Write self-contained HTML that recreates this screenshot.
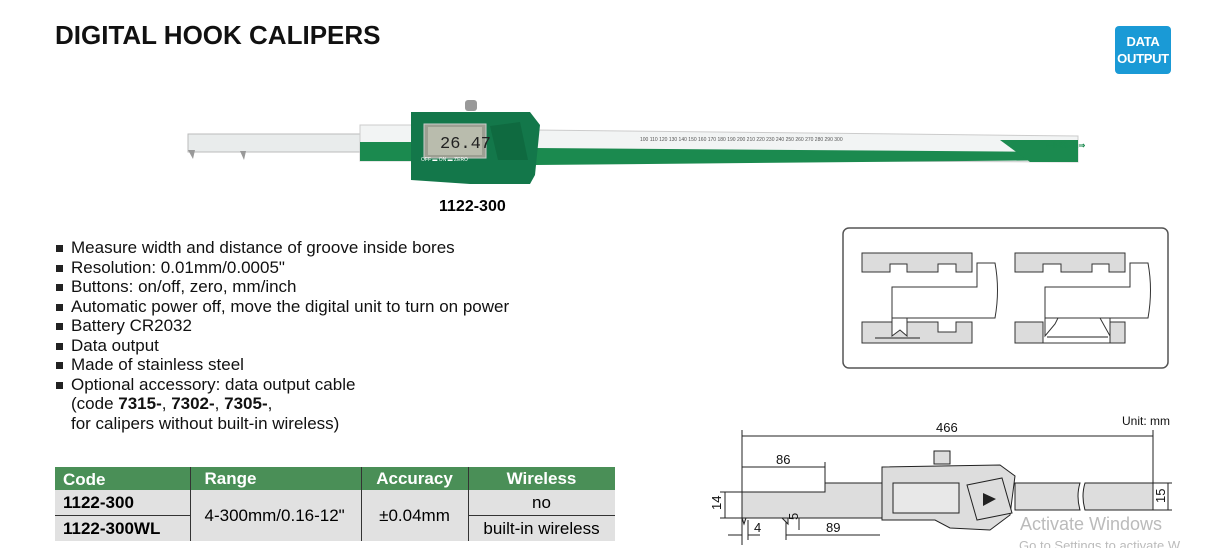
<!DOCTYPE html>
<html><head><meta charset="utf-8"><style>
body{margin:0;width:1206px;height:548px;overflow:hidden;background:#fff;font-family:"Liberation Sans",Arial,sans-serif;position:relative}
.a{position:absolute}
ul{position:absolute;left:56px;top:238px;margin:0;padding:0;list-style:none;font-size:17px;line-height:19.5px;color:#111}
ul li{padding-left:15px;position:relative}
ul li.b:before{content:"";position:absolute;left:0;top:7px;width:7px;height:7px;background:#222}
table{position:absolute;left:55px;top:467px;border-collapse:collapse;font-size:17px}
td{padding:0;height:25px;border-left:1.5px solid #333}
tr.h td{background:#4a8f57;color:#fff;font-weight:bold;height:23px;font-size:17px}
tr.r td{background:#e1e1e1}
</style></head><body>
<div class="a" style="left:55px;top:20px;font-size:26px;font-weight:bold;color:#111">DIGITAL HOOK CALIPERS</div>
<div class="a" style="left:1115px;top:26px;width:56px;height:48px;background:#1a9ad6;border-radius:4px;color:#fff;font-weight:bold;font-size:13px;letter-spacing:-0.3px;text-align:center;line-height:17px;padding-top:7px;box-sizing:border-box">DATA<br>OUTPUT</div>

<svg class="a" style="left:0;top:0" width="1206" height="548">
<path d="M188 134 L360 134 L360 152 L188 152Z" fill="#e9ecec" stroke="#bbb"/>
<path d="M188 150 L195 150 L193 159 Z M240 151 L246 151 L244 160 Z" fill="#999"/>
<rect x="360" y="125" width="52" height="36" fill="#f2f4f4" stroke="#ccc"/>
<rect x="360" y="142" width="52" height="19" fill="#1b8a4f"/>
<path d="M535 130 L1078 136 L1078 162 L535 160Z" fill="#f2f4f4" stroke="#ccc"/>
<path d="M535 148 L1065 152 L1078 160 L535 165Z" fill="#1b8a4f"/>
<path d="M1000 140 L1078 140 L1078 162 L1030 162Z" fill="#1b8a4f"/>
<text x="640" y="141" font-size="5" fill="#555">100 110 120 130 140 150 160 170 180 190 200 210 220 230 240 250 260 270 280 290 300</text>
<text x="1046" y="148" font-size="8" font-weight="bold" fill="#1b8a4f">⇐INSIZE⇒</text>
<path d="M411 112 L530 112 L540 125 L535 175 L530 184 L470 184 L411 180Z" fill="#13774a"/>
<rect x="465" y="100" width="12" height="11" rx="3" fill="#999"/>
<rect x="424" y="124" width="62" height="34" fill="#9c9f92" stroke="#ccc"/>
<rect x="428" y="127" width="54" height="28" fill="#b9bcad"/>
<text x="440" y="148" font-size="17" fill="#222" font-family="Liberation Mono">26.47</text>
<path d="M490 126 L520 122 L528 160 L498 160Z" fill="#0f6a40"/>
<text x="421" y="161" font-size="5" fill="#fff">OFF ▬ ON   ▬ ZERO</text>
<rect x="843" y="228" width="325" height="140" rx="6" fill="#fff" stroke="#555" stroke-width="1.5"/>
<g fill="#dcdcdc" stroke="#333" stroke-width="1">
<path d="M862 253 L972 253 L972 272 L956 272 L956 264 L938 264 L938 272 L907 272 L907 264 L890 264 L890 272 L862 272Z"/>
<path d="M862 322 L938 322 L938 332 L956 332 L956 322 L972 322 L972 343 L862 343Z"/>
<path d="M1015 253 L1125 253 L1125 272 L1109 272 L1109 264 L1092 264 L1092 272 L1061 272 L1061 264 L1043 264 L1043 272 L1015 272Z"/>
<path d="M1015 322 L1043 322 L1043 343 L1110 343 L1110 322 L1125 322 L1125 343 L1015 343Z"/>
</g>
<g fill="#fff" stroke="#333" stroke-width="1">
<path d="M977 263 L995 263 Q1000 290 995 318 L892 318 L892 287 L977 287Z"/>
<path d="M1130 263 L1148 263 Q1153 290 1148 318 L1045 318 L1045 287 L1130 287Z"/>
<path d="M892 318 L892 336 L900 330 L907 336 L907 318Z M1045 318 L1045 336 L1055 324 L1058 318Z M1100 318 L1110 336 L1110 318Z"/>
</g>
<g stroke="#222" stroke-width="1"><line x1="875" y1="338" x2="920" y2="338"/><line x1="1047" y1="337" x2="1108" y2="337"/></g>
<g stroke="#222" stroke-width="1" fill="none">
<line x1="742" y1="436" x2="1153" y2="436"/><line x1="742" y1="430" x2="742" y2="545"/><line x1="1153" y1="430" x2="1153" y2="483"/>
<line x1="742" y1="467" x2="825" y2="467"/><line x1="825" y1="462" x2="825" y2="483"/>
<line x1="725" y1="492" x2="725" y2="518"/><line x1="720" y1="492" x2="742" y2="492"/><line x1="720" y1="518" x2="742" y2="518"/>
<line x1="1168" y1="483" x2="1168" y2="510"/><line x1="1153" y1="483" x2="1172" y2="483"/><line x1="1153" y1="510" x2="1172" y2="510"/>
<line x1="728" y1="535" x2="742" y2="535"/><line x1="748" y1="535" x2="760" y2="535"/><line x1="748" y1="520" x2="748" y2="540"/>
<line x1="786" y1="535" x2="880" y2="535"/><line x1="786" y1="515" x2="786" y2="540"/>
<line x1="799" y1="497" x2="799" y2="530"/>
</g>
<g fill="#ddd" stroke="#222" stroke-width="1">
<path d="M742 492 L825 492 L825 483 L882 483 L882 518 L742 518Z"/>
<path d="M1015 483 L1080 483 Q1076 496 1080 510 L1015 510Z"/>
<path d="M1085 483 L1153 483 L1153 510 L1085 510 Q1081 496 1085 483Z"/>
<path d="M882 467 L1000 465 L1015 476 L1010 515 L990 530 L950 528 L935 520 L882 520Z"/>
<rect x="934" y="451" width="16" height="13"/>
<rect x="893" y="483" width="66" height="30" fill="#e8e8e8"/>
<path d="M967 485 L1002 478 L1012 513 L977 520Z"/>
<path d="M742 518 L746 518 L744 524Z M782 518 L788 518 L788 524Z"/>
</g>
<path d="M983 493 L983 506 L996 499Z" fill="#222"/>
<g font-size="13" fill="#111">
<text x="936" y="432">466</text><text x="776" y="464">86</text><text x="1122" y="425" font-size="12">Unit: mm</text>
<text x="754" y="532">4</text><text x="826" y="532">89</text>
<text transform="translate(721 510) rotate(-90)">14</text>
<text transform="translate(798 520) rotate(-90)">5</text>
<text transform="translate(1165 503) rotate(-90)">15</text>
</g>
<text x="1020" y="530" font-size="18" fill="#bbb">Activate Windows</text>
<text x="1019" y="550" font-size="13" fill="#bbb">Go to Settings to activate W</text>
</svg>

<div class="a" style="left:439px;top:198px;font-size:16px;font-weight:bold">1122-300</div>
<ul>
<li class="b">Measure width and distance of groove inside bores</li>
<li class="b">Resolution: 0.01mm/0.0005"</li>
<li class="b">Buttons: on/off, zero, mm/inch</li>
<li class="b">Automatic power off, move the digital unit to turn on power</li>
<li class="b">Battery CR2032</li>
<li class="b">Data output</li>
<li class="b">Made of stainless steel</li>
<li class="b">Optional accessory: data output cable</li>
<li>(code <b>7315-</b>, <b>7302-</b>, <b>7305-</b>,</li>
<li>for calipers without built-in wireless)</li>
</ul>
<table>
<tr class="h"><td style="width:135px;border-left:0;padding-left:8px;box-sizing:border-box;vertical-align:bottom">Code</td><td style="width:171px;padding-left:14px;box-sizing:border-box">Range</td><td style="width:106px;text-align:center">Accuracy</td><td style="width:146px;text-align:center">Wireless</td></tr>
<tr class="r"><td style="border-left:0;padding-left:8px;font-weight:bold;border-bottom:1px solid #333">1122-300</td><td rowspan="2" style="padding-left:14px">4-300mm/0.16-12"</td><td rowspan="2" style="text-align:center">±0.04mm</td><td style="text-align:center;border-bottom:1px solid #333">no</td></tr>
<tr class="r"><td style="border-left:0;padding-left:8px;font-weight:bold">1122-300WL</td><td style="text-align:center">built-in wireless</td></tr>
</table>
</body></html>
